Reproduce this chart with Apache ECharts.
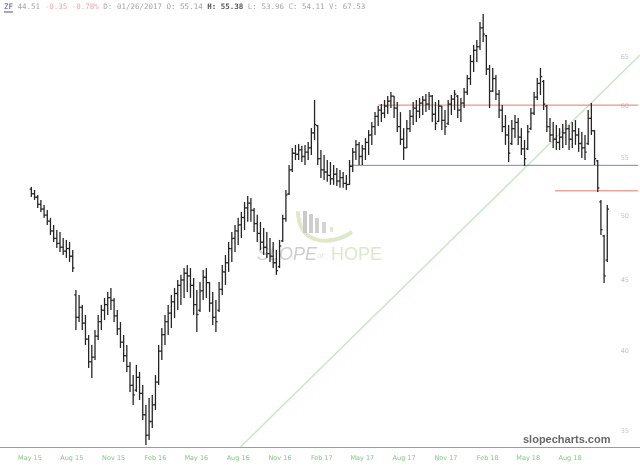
<!DOCTYPE html>
<html>
<head>
<meta charset="utf-8">
<script src="https://cdn.jsdelivr.net/npm/echarts@6/dist/echarts.min.js"></script>
<style>
  html, body { margin: 0; padding: 0; background: #fff; }
  #main { width: 640px; height: 467px; }
</style>
</head>
<body>
<div id="main"></div>
<script>
// weekly bars, first bar is the week of 2015-05-04
const firstWeek = [2015, 4, 4];

const opens = [52.3,51.9,51.6,51.0,50.6,50.1,49.6,48.8,48.2,47.8,
  47.5,47.2,47.4,46.8,43.9,42.3,43.0,41.9,40.8,39.3,
  39.6,41.0,42.0,42.8,43.2,43.7,43.5,42.4,41.5,40.6,
  39.7,39.0,37.8,37.5,38.3,37.3,36.0,34.8,35.6,36.6,
  38.0,40.0,41.1,42.0,42.6,43.4,44.0,44.6,45.0,45.5,
  45.3,44.6,43.2,42.8,44.2,45.2,44.8,43.3,42.3,42.8,
  44.3,45.6,46.3,47.4,48.2,48.8,49.3,49.9,50.7,51.1,
  50.5,49.4,48.6,47.9,47.5,47.0,46.8,46.3,46.0,48.0,
  49.8,51.9,54.0,55.5,55.4,55.8,55.2,55.6,56.0,57.4,
  58.1,55.0,54.0,53.8,53.5,53.2,53.6,53.0,53.3,52.8,
  52.7,54.3,55.6,56.3,55.2,55.9,56.5,57.2,58.0,59.0,
  59.6,59.3,60.0,60.5,61.0,59.8,58.0,56.8,56.0,57.8,
  59.0,59.8,59.5,60.3,60.6,60.2,61.0,59.2,58.5,60.0,
  58.6,58.3,60.2,60.7,61.0,59.6,60.3,61.4,62.8,64.6,
  65.8,66.2,68.3,67.4,63.8,61.5,62.8,61.2,59.6,58.0,
  57.2,56.4,57.8,58.4,57.0,55.9,55.9,57.8,59.3,60.9,
  62.3,62.5,60.0,58.0,57.2,56.8,56.5,57.0,57.4,57.8,
  56.8,57.6,57.2,56.4,56.0,56.4,58.8,57.6,54.8,51.2,
  48.4,46.5];

const highs = [52.49,52.23,51.80,51.37,50.95,50.53,49.87,49.29,48.88,48.72,
  48.24,48.08,47.92,47.29,44.26,43.90,43.18,42.47,41.08,40.41,
  41.42,42.47,43.18,43.68,44.11,44.41,43.68,42.82,41.97,41.08,
  40.41,39.29,38.45,39.10,38.64,37.82,36.59,37.01,37.20,38.45,
  40.41,41.56,42.47,43.18,43.90,44.41,45.00,45.38,45.90,46.13,
  45.90,45.15,44.26,44.85,45.75,45.90,44.85,44.11,43.53,44.85,
  46.13,46.90,47.92,48.72,49.29,49.87,50.36,51.20,51.71,51.54,
  50.70,50.12,49.54,49.04,48.72,48.24,47.92,47.29,48.08,50.12,
  52.23,54.43,55.99,56.27,56.36,56.18,56.27,56.54,57.86,60.61,
  58.15,55.80,55.34,54.88,54.70,54.43,54.16,53.98,53.80,53.54,
  54.88,55.99,56.73,56.54,56.27,56.92,57.67,58.44,59.41,60.01,
  60.21,60.61,61.01,61.42,61.01,60.41,59.41,57.86,58.63,59.61,
  60.41,60.61,60.81,61.01,61.22,61.42,61.12,60.41,60.61,60.01,
  59.61,60.61,61.12,61.62,61.12,60.81,61.83,63.18,65.30,66.39,
  66.94,68.96,69.88,67.50,64.23,63.91,63.18,61.62,60.11,59.12,
  58.15,58.63,59.12,58.83,57.86,56.73,58.15,59.81,61.42,62.86,
  63.91,62.65,60.11,58.83,58.44,58.15,57.86,58.25,58.63,58.15,
  58.44,58.63,57.86,57.48,57.20,59.61,60.31,57.67,54.88,51.37,
  48.48,50.95];

const lows = [51.63,51.37,50.70,50.36,49.87,49.29,48.48,47.92,47.45,47.13,
  46.90,46.67,46.36,45.60,41.42,41.97,41.42,40.41,38.90,38.26,
  39.42,40.74,41.42,42.11,42.47,42.82,41.97,41.08,40.21,39.29,
  38.64,37.39,36.59,37.39,36.89,35.69,34.25,34.53,35.22,36.29,
  37.82,39.42,40.41,41.08,41.56,42.25,42.82,43.18,43.68,44.11,
  43.68,42.47,41.28,42.68,43.53,43.68,42.68,41.77,41.28,42.68,
  43.90,44.63,45.60,46.36,47.13,47.68,48.24,48.88,49.54,49.54,
  48.72,47.92,47.29,46.90,46.67,46.36,45.90,45.38,45.90,47.92,
  49.54,51.80,53.80,54.88,54.88,54.70,54.43,54.88,55.34,56.73,
  54.43,53.28,53.10,52.93,52.67,52.67,52.58,52.41,52.41,52.23,
  52.67,53.80,54.88,54.43,54.43,54.88,55.34,56.27,57.20,58.05,
  58.44,58.83,59.22,59.81,58.83,57.48,56.27,54.88,55.99,57.48,
  58.15,58.44,58.83,59.12,59.41,59.61,58.44,57.67,58.44,57.67,
  57.20,58.15,59.12,59.61,58.83,58.44,59.81,61.12,62.14,63.49,
  64.55,65.84,66.72,63.18,59.81,61.42,60.61,58.83,57.48,56.27,
  54.70,56.27,56.92,56.27,55.34,54.34,55.80,57.67,59.12,60.61,
  61.12,59.61,57.48,56.54,55.99,55.80,55.80,55.99,56.27,55.80,
  55.99,56.27,55.62,55.06,54.88,56.27,57.20,54.43,52.06,48.48,
  44.78,46.36];

const closes = [51.9,51.6,51.0,50.6,50.1,49.6,48.8,48.2,47.8,47.5,
  47.2,47.4,46.8,45.9,42.3,43.0,41.9,40.8,39.3,39.6,
  41.0,42.0,42.8,43.2,43.7,43.5,42.4,41.5,40.6,39.7,
  39.0,37.8,37.2,38.3,37.3,36.0,34.8,35.6,36.6,38.0,
  40.0,41.1,42.0,42.6,43.4,44.0,44.6,45.0,45.5,45.3,
  44.6,43.2,42.5,44.2,45.2,44.8,43.3,42.3,42.0,44.3,
  45.6,46.3,47.4,48.2,48.8,49.3,49.9,50.7,51.1,50.5,
  49.4,48.6,47.9,47.5,47.0,46.8,46.3,45.7,47.6,49.8,
  51.8,54.0,55.5,55.4,55.8,55.2,55.6,56.0,57.4,58.2,
  55.0,54.0,53.8,53.5,53.2,53.6,53.0,53.3,52.8,52.7,
  54.3,55.6,56.3,55.2,55.9,56.5,57.2,58.0,59.0,59.6,
  59.3,60.0,60.5,61.0,59.8,58.0,56.8,56.0,57.8,59.0,
  59.8,59.5,60.3,60.6,60.2,61.0,59.2,58.3,60.0,58.6,
  58.0,60.2,60.7,61.2,59.6,60.3,61.4,62.8,64.6,65.8,
  66.2,68.3,67.6,63.8,61.5,62.8,61.2,59.6,58.0,57.2,
  55.5,57.8,58.4,57.0,55.9,55.0,57.5,59.3,60.9,62.3,
  63.0,60.2,58.0,57.2,56.8,56.5,57.0,57.4,57.8,56.8,
  57.6,57.2,56.4,56.0,55.6,58.8,57.6,55.0,52.4,48.9,
  45.3,50.6];

// x axis ticks
const xTickDates = ['2015-05-01','2015-08-01','2015-11-01','2016-02-01','2016-05-01','2016-08-01','2016-11-01',
  '2017-02-01','2017-05-01','2017-08-01','2017-11-01','2018-02-01','2018-05-01','2018-08-01'];
const xTickLabels = ['May 15','Aug 15','Nov 15','Feb 16','May 16','Aug 16','Nov 16',
  'Feb 17','May 17','Aug 17','Nov 17','Feb 18','May 18','Aug 18'];
const yTicks = [35, 40, 45, 50, 55, 60, 65];

// drawn lines
const trendDates = ['2016-08-06', '2019-01-02'];
const trendValues = [34.13, 65.3];
const blueLevelDates = ['2017-04-04', '2018-12-29'];
const blueLevel = 54.4;
const redLevelDates = ['2017-06-05', '2018-12-29'];
const redLevel = 60.1;
const red2LevelDates = ['2018-06-29', '2018-12-29'];
const red2Level = 52.15;

function ts(s) { return echarts.number.parseDate(s).getTime(); }

const weeks = opens.map(function (_, i) {
  return new Date(firstWeek[0], firstWeek[1], firstWeek[2] + 7 * i).getTime();
});
const tickTimes = xTickDates.map(ts);

const myChart = echarts.init(document.getElementById('main'));

function levelSeries(dates, value, color) {
  return {
    type: 'line',
    data: [[ts(dates[0]), value], [ts(dates[1]), value]],
    symbol: 'none',
    silent: true,
    lineStyle: { color: color, width: 1 },
    z: 1
  };
}

myChart.setOption({
  animation: false,
  grid: { left: 0, right: 0, top: 0, bottom: 20 },
  xAxis: {
    type: 'value',
    min: ts('2015-02-24'),
    max: ts('2019-01-02'),
    axisLine: { lineStyle: { color: '#9c9c9c', width: 1 } },
    axisTick: { show: false },
    splitLine: { show: false },
    axisLabel: {
      customValues: tickTimes,
      formatter: function (v) {
        let k = tickTimes.indexOf(v);
        return k >= 0 ? xTickLabels[k] : '';
      },
      color: '#80c880',
      fontSize: 6.5,
      margin: 8,
      fontFamily: 'DejaVu Sans'
    }
  },
  yAxis: {
    type: 'log',
    position: 'right',
    min: 34.13,
    max: 71.52,
    axisLine: { show: false },
    axisTick: { show: false },
    splitLine: { show: false },
    axisLabel: {
      customValues: yTicks,
      inside: true,
      margin: 11,
      color: '#c4c4c4',
      fontSize: 6.5,
      fontFamily: 'DejaVu Sans'
    }
  },
  graphic: [
    // watermark logo
    { type: 'bezierCurve', silent: true, z: 0,
      shape: { x1: 298, y1: 211, cpx1: 298, cpy1: 246, cpx2: 332, cpy2: 246, x2: 352, y2: 232 },
      style: { stroke: '#dde9c8', lineWidth: 4, fill: null } },
    { type: 'rect', silent: true, z: 0, shape: { x: 303, y: 211, width: 4, height: 22 }, style: { fill: '#cacaca' } },
    { type: 'rect', silent: true, z: 0, shape: { x: 309, y: 214, width: 4, height: 19 }, style: { fill: '#cdcdcd' } },
    { type: 'rect', silent: true, z: 0, shape: { x: 315, y: 218, width: 4, height: 15 }, style: { fill: '#d0d0d0' } },
    { type: 'rect', silent: true, z: 0, shape: { x: 322, y: 222, width: 4, height: 11 }, style: { fill: '#d3d3d3' } },
    { type: 'rect', silent: true, z: 0, shape: { x: 330, y: 227, width: 3, height: 5 }, style: { fill: '#dfe8d0' } },
    { type: 'text', silent: true, z: 0, left: 257, top: 246,
      style: { text: 'SLOPE', fill: '#cecece', font: 'italic 18px "Liberation Sans"' } },
    { type: 'text', silent: true, z: 0, left: 317, top: 252,
      style: { text: 'of', fill: '#dde6d2', font: '8px "Liberation Sans"' } },
    { type: 'text', silent: true, z: 0, left: 331, top: 246,
      style: { text: 'HOPE', fill: '#dbe9cb', font: '18px "Liberation Sans"' } },
    // header
    { type: 'text', left: 4, top: 3,
      style: {
        text: '{tk|ZF} {g|44.51} {r|-0.35 -0.78%} {g|D: 01/26/2017 O: 55.14} {b|H: 55.38} {g|L: 53.96 C: 54.11 V: 67.53}',
        font: '7.5px "DejaVu Sans Mono"',
        fill: '#aaa',
        rich: {
          tk: { fill: '#4b4ba8', font: '7.5px "DejaVu Sans Mono"' },
          g: { fill: '#a4a4a4', font: '7.5px "DejaVu Sans Mono"' },
          r: { fill: '#f2a6a6', font: '7.5px "DejaVu Sans Mono"' },
          b: { fill: '#555', font: 'bold 7.5px "DejaVu Sans Mono"' }
        }
      } },
    { type: 'line', shape: { x1: 4, y1: 12, x2: 13, y2: 12 }, style: { stroke: '#4b4ba8', lineWidth: 1 } },
    // site credit
    { type: 'text', left: 523, top: 434,
      style: { text: 'slopecharts.com', fill: '#676767', font: 'bold 11px "Liberation Sans"' } }
  ],
  series: [
    {
      type: 'line',
      data: [[ts(trendDates[0]), trendValues[0]], [ts(trendDates[1]), trendValues[1]]],
      symbol: 'none',
      silent: true,
      lineStyle: { color: '#c2e8bd', width: 1.3 },
      z: 1
    },
    levelSeries(blueLevelDates, blueLevel, '#7f7fc9'),
    levelSeries(redLevelDates, redLevel, '#e57a66'),
    levelSeries(red2LevelDates, red2Level, '#e57a66'),
    {
      type: 'custom',
      z: 3,
      data: weeks.map(function (t, i) { return [t, opens[i], highs[i], lows[i], closes[i]]; }),
      encode: { x: 0, y: [1, 2, 3, 4] },
      renderItem: function (params, api) {
        let t = api.value(0);
        let o = api.coord([t, api.value(1)]);
        let h = api.coord([t, api.value(2)]);
        let l = api.coord([t, api.value(3)]);
        let c = api.coord([t, api.value(4)]);
        let st = { stroke: '#262626', lineWidth: 1.3 };
        return {
          type: 'group',
          children: [
            { type: 'line', shape: { x1: h[0], y1: h[1], x2: l[0], y2: l[1] }, style: st },
            { type: 'line', shape: { x1: o[0] - 1.7, y1: o[1], x2: o[0], y2: o[1] }, style: st },
            { type: 'line', shape: { x1: c[0], y1: c[1], x2: c[0] + 1.7, y2: c[1] }, style: st }
          ]
        };
      }
    }
  ]
});
</script>
</body>
</html>
